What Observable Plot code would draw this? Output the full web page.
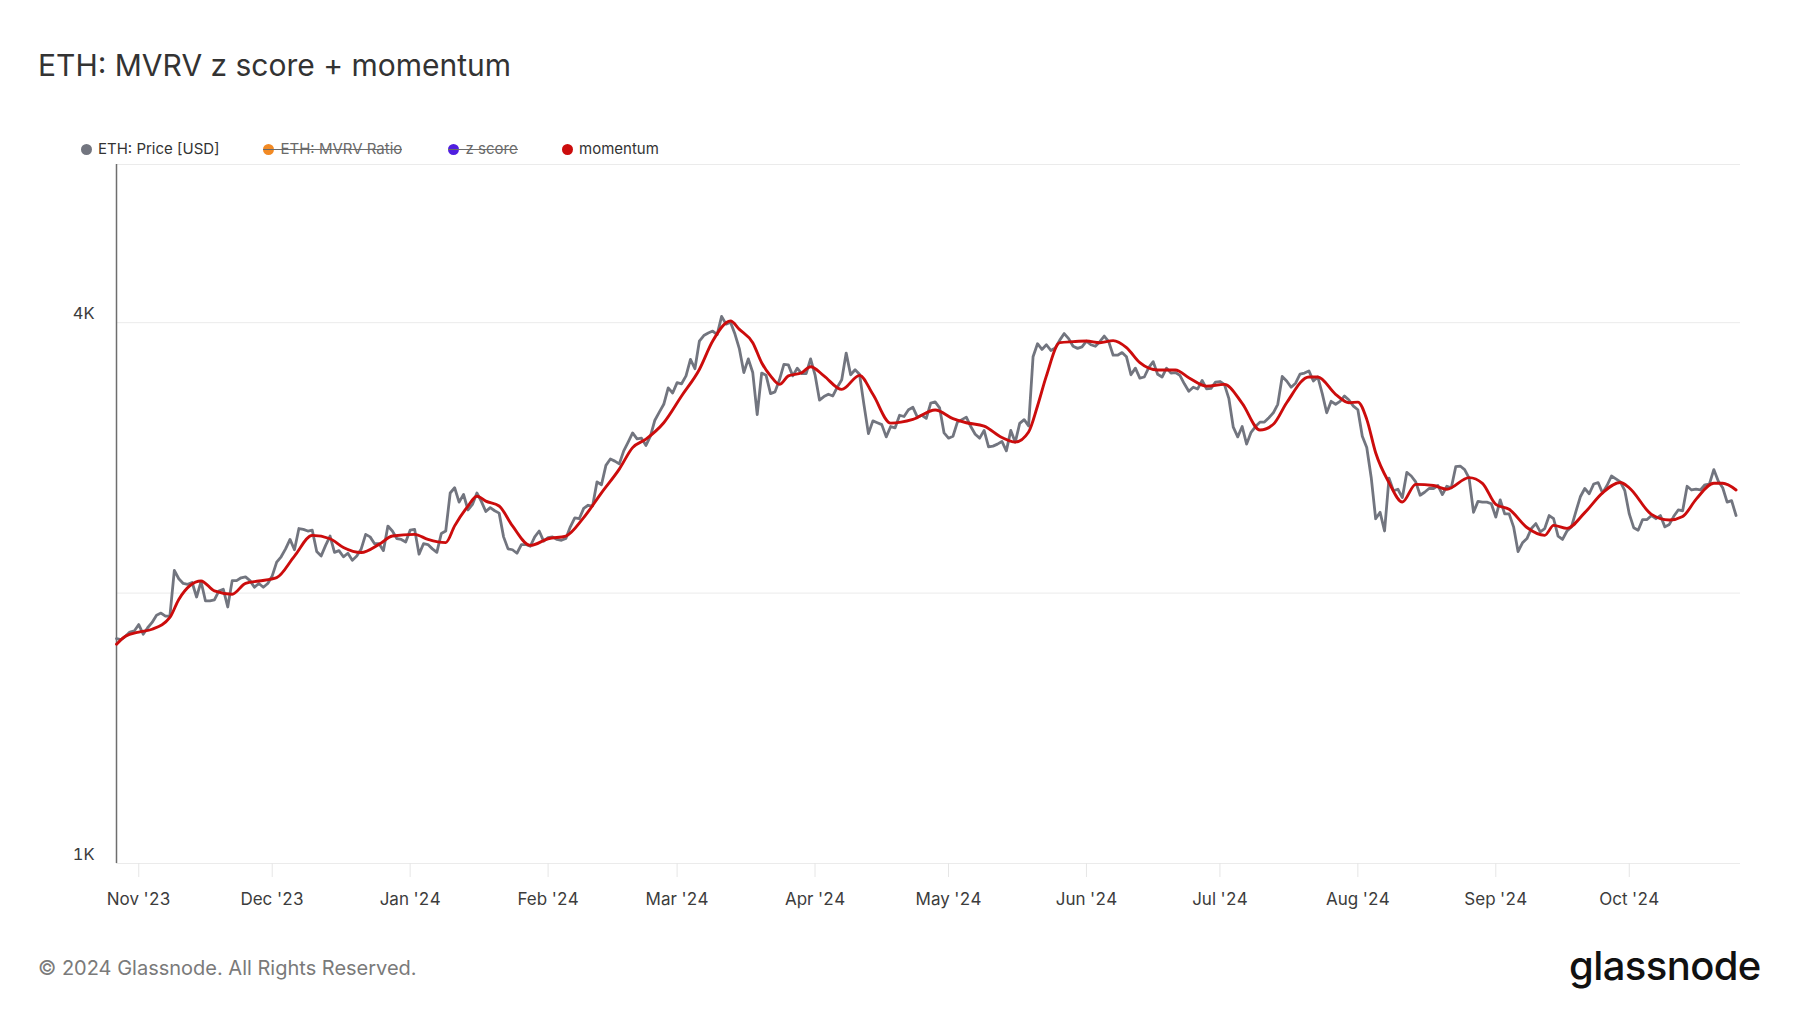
<!DOCTYPE html>
<html>
<head>
<meta charset="utf-8">
<script src="https://cdn.jsdelivr.net/npm/d3@7"></script>
<script src="https://cdn.jsdelivr.net/npm/@observablehq/plot@0.6"></script>
<style>
  html, body { margin: 0; padding: 0; background: #ffffff; }
  body { font-family: Inter, "Noto Sans", sans-serif; }
  #page { position: relative; width: 1800px; height: 1013px; overflow: hidden; background: #fff; }
  #title { position: absolute; left: 38px; top: 50px; font-size: 30px; line-height: 31px; color: #333; white-space: nowrap; }
  .leg { position: absolute; top: 141px; height: 16px; display: flex; align-items: center; font-size: 15px; line-height: 16px; color: #333; white-space: nowrap; }
  .leg .dot { width: 11px; height: 11px; border-radius: 50%; margin-right: 6.5px; flex: none; }
  .leg.off span.t { color: #6a6a6a; }
  .leg.off::after { content: ""; position: absolute; left: 0; right: 0; top: 8px; height: 1.2px; background: #6a6a6a; }
  #chart { position: absolute; left: 0; top: 158px; }
  #footer { position: absolute; left: 38px; top: 956px; font-size: 20px; line-height: 24px; color: #7a7a7a; white-space: nowrap; }
  #logo { position: absolute; left: 1569px; top: 944px; font-size: 40px; line-height: 44px; font-weight: 500; color: #111; letter-spacing: -0.6px; white-space: nowrap; }
</style>
</head>
<body>
<div id="page">
  <div id="title"></div>
  <div id="legend"></div>
  <div id="chart"></div>
  <div id="footer"></div>
  <div id="logo"></div>
</div>
<script>
// ---------------- data ----------------
const chartTitle = "ETH: MVRV z score + momentum";
const footerText = "© 2024 Glassnode. All Rights Reserved.";
const logoText = "glassnode";

const seriesNames = ["ETH: Price [USD]", "ETH: MVRV Ratio", "z score", "momentum"];
const seriesColors = ["#72757f", "#f28a24", "#4f1ee0", "#cc0c0c"];
const seriesHidden = [false, true, true, false];

const yTickValues = [1000, 4000];
const yGridValues = [1000, 2000, 4000, 6000];
const yTickLabels = ["1K", "4K"];

const priceStart = "2023-10-27"; // first daily value
// ETH price [USD], one value per day from 2023-10-27 to 2024-10-25
const priceUSD = [
  // Oct 27-31 2023
  1780, 1775, 1790, 1810, 1815,
  // Nov 2023
  1845, 1800, 1830, 1855, 1890, 1900, 1885, 1885, 2120, 2075,
  2050, 2045, 2055, 1980, 2060, 1960, 1960, 1965, 2010, 2020,
  1930, 2065, 2065, 2080, 2085, 2065, 2030, 2050, 2030, 2050,
  // Dec 2023
  2090, 2165, 2195, 2240, 2295, 2235, 2360, 2355, 2345, 2350,
  2225, 2200, 2260, 2315, 2220, 2230, 2195, 2215, 2175, 2200,
  2240, 2325, 2310, 2270, 2270, 2230, 2375, 2345, 2300, 2295, 2280,
  // Jan 2024
  2350, 2355, 2210, 2270, 2265, 2240, 2220, 2330, 2345, 2585,
  2620, 2525, 2575, 2475, 2510, 2585, 2530, 2465, 2490, 2470,
  2455, 2310, 2240, 2235, 2215, 2265, 2265, 2255, 2310, 2345, 2285,
  // Feb 2024
  2305, 2310, 2295, 2290, 2300, 2370, 2425, 2420, 2485, 2505,
  2500, 2660, 2640, 2775, 2820, 2805, 2785, 2880, 2945, 3015,
  2970, 2975, 2920, 2990, 3115, 3180, 3245, 3385, 3340,
  // Mar 2024
  3430, 3420, 3490, 3640, 3555, 3815, 3870, 3895, 3915, 3880,
  4065, 3985, 4005, 3885, 3740, 3520, 3645, 3520, 3160, 3515,
  3495, 3335, 3350, 3455, 3595, 3590, 3490, 3560, 3510, 3510, 3645,
  // Apr 2024
  3500, 3280, 3310, 3330, 3315, 3390, 3455, 3700, 3500, 3545,
  3505, 3240, 3010, 3110, 3095, 3080, 2985, 3065, 3055, 3155,
  3145, 3200, 3220, 3140, 3155, 3130, 3255, 3265, 3215, 3015,
  // May 2024
  2975, 2990, 3100, 3120, 3140, 3065, 3005, 2975, 3035, 2910,
  2915, 2930, 2950, 2880, 3035, 2945, 3090, 3120, 3070, 3665,
  3790, 3735, 3780, 3725, 3750, 3825, 3890, 3840, 3765, 3745, 3760,
  // Jun 2024
  3815, 3780, 3765, 3810, 3865, 3810, 3680, 3680, 3705, 3665,
  3500, 3560, 3470, 3480, 3565, 3620, 3505, 3480, 3560, 3515,
  3520, 3495, 3420, 3355, 3390, 3375, 3450, 3375, 3380, 3435,
  // Jul 2024
  3440, 3415, 3295, 3060, 2985, 3065, 2930, 3020, 3065, 3100,
  3100, 3135, 3175, 3245, 3485, 3445, 3390, 3425, 3505, 3515,
  3535, 3445, 3480, 3335, 3175, 3270, 3245, 3270, 3315, 3280, 3230,
  // Aug 2024
  3200, 2990, 2905, 2690, 2420, 2460, 2345, 2685, 2600, 2610,
  2555, 2725, 2700, 2660, 2570, 2590, 2615, 2615, 2635, 2575,
  2630, 2620, 2765, 2770, 2745, 2685, 2460, 2530, 2525, 2525, 2515,
  // Sep 2024
  2430, 2540, 2450, 2450, 2370, 2225, 2275, 2300, 2360, 2390,
  2340, 2360, 2440, 2420, 2315, 2295, 2345, 2370, 2465, 2560,
  2615, 2580, 2645, 2655, 2585, 2635, 2700, 2680, 2660, 2600,
  // Oct 1-25 2024
  2450, 2365, 2350, 2415, 2415, 2440, 2420, 2440, 2370, 2385,
  2435, 2475, 2470, 2630, 2605, 2610, 2605, 2640, 2645, 2745,
  2665, 2620, 2525, 2535, 2440
];

// momentum line
const momentumDates = [
  "2023-10-27","2023-10-29","2023-11-01","2023-11-04","2023-11-08","2023-11-10","2023-11-15","2023-11-18",
  "2023-11-22","2023-11-25","2023-11-28","2023-12-02","2023-12-06","2023-12-10","2023-12-14","2023-12-17",
  "2023-12-21","2023-12-25","2023-12-28","2024-01-02","2024-01-05","2024-01-09","2024-01-11","2024-01-14",
  "2024-01-16","2024-01-18","2024-01-21","2024-01-24","2024-01-28","2024-02-01","2024-02-05","2024-02-09",
  "2024-02-13","2024-02-17","2024-02-20","2024-02-23","2024-02-27","2024-03-02","2024-03-06","2024-03-09",
  "2024-03-13","2024-03-15","2024-03-18","2024-03-20","2024-03-22","2024-03-24","2024-03-26","2024-03-29",
  "2024-03-31","2024-04-03","2024-04-07","2024-04-11","2024-04-14","2024-04-18","2024-04-23","2024-04-28",
  "2024-05-02","2024-05-05","2024-05-09","2024-05-13","2024-05-16","2024-05-19","2024-05-21","2024-05-23",
  "2024-05-26","2024-05-29","2024-06-01","2024-06-04","2024-06-07","2024-06-10","2024-06-13","2024-06-17",
  "2024-06-21","2024-06-24","2024-06-28","2024-07-02","2024-07-06","2024-07-10","2024-07-13","2024-07-16",
  "2024-07-21","2024-07-23","2024-07-27","2024-07-30","2024-08-01","2024-08-03","2024-08-05","2024-08-08",
  "2024-08-11","2024-08-14","2024-08-18","2024-08-21","2024-08-26","2024-08-29","2024-09-01","2024-09-04",
  "2024-09-08","2024-09-12","2024-09-14","2024-09-17","2024-09-21","2024-09-25","2024-09-29","2024-10-01",
  "2024-10-06","2024-10-10","2024-10-13","2024-10-16","2024-10-20","2024-10-22","2024-10-25"
];
const momentumValues = [
  1754, 1791, 1810, 1823, 1879, 1968, 2063, 2011,
  1994, 2051, 2063, 2081, 2199, 2319, 2299, 2248,
  2219, 2266, 2315, 2325, 2295, 2276, 2376, 2500,
  2564, 2532, 2500, 2376, 2260, 2299, 2315, 2427,
  2586, 2748, 2904, 2968, 3095, 3315, 3548, 3816,
  4017, 3932, 3800, 3610, 3490, 3415, 3490, 3518,
  3573, 3490, 3371, 3495, 3329, 3092, 3122, 3198,
  3128, 3095, 3069, 2980, 2946, 3023, 3231, 3490,
  3800, 3810, 3816, 3800, 3820, 3752, 3610, 3543,
  3543, 3474, 3400, 3415, 3253, 3038, 3083, 3258,
  3480, 3480, 3329, 3258, 3263, 3122, 2866, 2655,
  2526, 2643, 2635, 2610, 2689, 2650, 2511, 2479,
  2366, 2319, 2379, 2361, 2458, 2586, 2655, 2619,
  2447, 2412, 2434, 2543, 2650, 2650, 2605
];

// ---------------- build ----------------
document.getElementById("title").textContent = chartTitle;
document.getElementById("footer").textContent = footerText;
document.getElementById("logo").textContent = logoText;

const legendLefts = [80.5, 263, 448, 561.5];
const legend = document.getElementById("legend");
seriesNames.forEach((name, i) => {
  const item = document.createElement("div");
  item.className = "leg" + (seriesHidden[i] ? " off" : "");
  item.style.left = legendLefts[i] + "px";
  const dot = document.createElement("span");
  dot.className = "dot";
  dot.style.background = seriesColors[i];
  const t = document.createElement("span");
  t.className = "t";
  t.textContent = name;
  item.appendChild(dot);
  item.appendChild(t);
  legend.appendChild(item);
});

const start = new Date(priceStart + "T00:00:00Z");
const priceData = priceUSD.map((v, i) => ({ date: d3.utcDay.offset(start, i), value: v }));
const momentumData = momentumDates.map((d, i) => ({ date: new Date(d + "T00:00:00Z"), value: momentumValues[i] }));

const xDomain = [new Date("2023-10-27T00:00:00Z"), new Date("2024-10-26T00:00:00Z")];
const monthTicks = d3.utcMonth.range(new Date("2023-11-01T00:00:00Z"), new Date("2024-10-02T00:00:00Z"));

const chart = Plot.plot({
  width: 1800,
  height: 760,
  marginTop: 6,
  marginBottom: 55,
  marginLeft: 116,
  marginRight: 60,
  style: { fontFamily: "Inter, 'Noto Sans', sans-serif", background: "transparent", overflow: "visible" },
  x: { type: "utc", domain: xDomain, label: null },
  y: { type: "log", domain: [1000, 6000], label: null },
  marks: [
    Plot.gridY(yGridValues, { stroke: "#ebebeb", strokeOpacity: 1, strokeWidth: 1 }),
    Plot.axisX({
      ticks: monthTicks,
      tickFormat: d3.utcFormat("%b '%y"),
      tickSize: 14,
      tickPadding: 15,
      fontSize: 17,
      stroke: "#e6e6e6",
      fill: "#3c3c3c",
      label: null
    }),
    Plot.axisY({
      ticks: yTickValues,
      tickFormat: d => yTickLabels[yTickValues.indexOf(d)],
      tickSize: 0,
      tickPadding: 22,
      dy: -9,
      fontSize: 16.5,
      fill: "#3c3c3c",
      label: null
    }),
    Plot.ruleX([xDomain[0]], { stroke: "#6e6e6e", strokeWidth: 1.5 }),
    Plot.lineY(priceData, { x: "date", y: "value", stroke: seriesColors[0], strokeWidth: 2.8 }),
    Plot.lineY(momentumData, { x: "date", y: "value", stroke: seriesColors[3], strokeWidth: 2.9, curve: "monotone-x" })
  ]
});
document.getElementById("chart").appendChild(chart);
</script>
</body>
</html>
